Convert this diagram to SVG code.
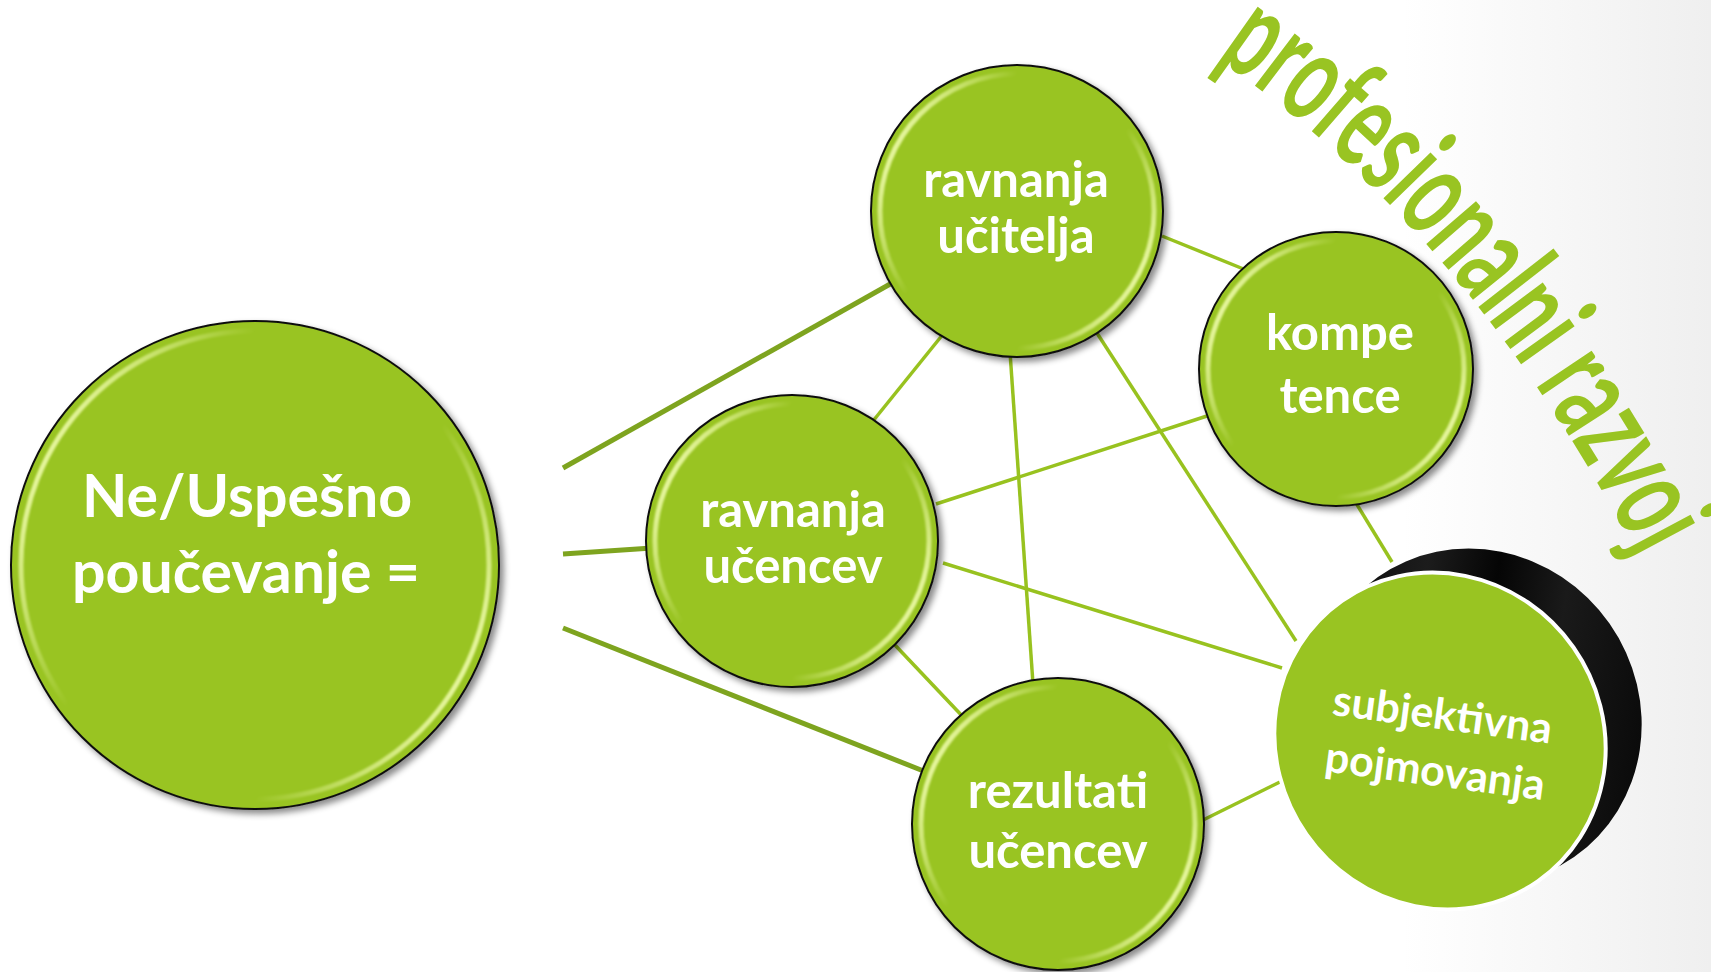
<svg xmlns="http://www.w3.org/2000/svg" width="1711" height="972" viewBox="0 0 1711 972">
<defs>
  <linearGradient id="bg" x1="0" y1="0" x2="1711" y2="0" gradientUnits="userSpaceOnUse">
    <stop offset="0.82" stop-color="#ffffff"/>
    <stop offset="1" stop-color="#efefef"/>
  </linearGradient>
  <linearGradient id="gloss" x1="0" y1="0.25" x2="1" y2="0.75">
    <stop offset="0" stop-color="#f4ffb4" stop-opacity="1"/>
    <stop offset="0.3" stop-color="#f4ffb4" stop-opacity="0"/>
    <stop offset="0.7" stop-color="#f4ffb4" stop-opacity="0"/>
    <stop offset="1" stop-color="#f4ffb4" stop-opacity="1"/>
  </linearGradient>
  <linearGradient id="rim" x1="0" y1="0" x2="1" y2="1">
    <stop offset="0" stop-color="#000"/>
    <stop offset="0.35" stop-color="#1c1c1c"/>
    <stop offset="0.5" stop-color="#050505"/>
    <stop offset="0.65" stop-color="#1a1a1a"/>
    <stop offset="1" stop-color="#000"/>
  </linearGradient>
  <filter id="shadow" x="-10%" y="-10%" width="125%" height="125%">
    <feDropShadow dx="4" dy="4" stdDeviation="3" flood-color="#000" flood-opacity="0.45"/>
  </filter>
  <filter id="soft" x="-10%" y="-10%" width="120%" height="120%">
    <feGaussianBlur stdDeviation="1.3"/>
  </filter>
  <path id="arc" d="M 1216 58 Q 1494 246 1680 640"/>
</defs>
<style>
  .ball{fill:#99c422;stroke:#111;stroke-width:2;filter:url(#shadow)}
  .gloss{fill:none;stroke:url(#gloss);stroke-width:5;filter:url(#soft)}
  .lbl{font-family:Lato,"Open Sans",sans-serif;font-weight:700;fill:#ffffff;text-anchor:middle}
  .thick{stroke:#7ea41f;stroke-width:5;fill:none}
  .thin{stroke:#98c21f;stroke-width:3.5;fill:none}
  .title{font-family:Lato,"Open Sans",sans-serif;font-weight:700;fill:#99c422;font-size:128px}
</style>
<rect x="0" y="0" width="1711" height="972" fill="url(#bg)"/>

<g id="connectors">
  <line class="thick" x1="563" y1="468" x2="892" y2="283"/>
  <line class="thick" x1="563" y1="554" x2="652" y2="548"/>
  <line class="thick" x1="563" y1="628" x2="926" y2="772"/>
  <line class="thin" x1="873" y1="421" x2="944" y2="333"/>
  <line class="thin" x1="1010" y1="352" x2="1033" y2="684"/>
  <line class="thin" x1="1095" y1="330" x2="1296" y2="641"/>
  <line class="thin" x1="1162" y1="236" x2="1246" y2="270"/>
  <line class="thin" x1="936" y1="504" x2="1207" y2="416"/>
  <line class="thin" x1="943" y1="563" x2="1282" y2="668"/>
  <line class="thin" x1="894" y1="644" x2="966" y2="720"/>
  <line class="thin" x1="1356" y1="503" x2="1392" y2="562"/>
  <line class="thin" x1="1193" y1="825" x2="1288" y2="778"/>
</g>

<g id="node-uspesno">
  <circle class="ball" cx="255" cy="565" r="244"/>
  <circle class="gloss" cx="255" cy="565" r="234"/>
  <text class="lbl" x="247" y="517" font-size="59">Ne/Uspešno</text>
  <text class="lbl" x="246" y="593" font-size="59">poučevanje =</text>
</g>

<g id="node-ucitelja">
  <circle class="ball" cx="1017" cy="211" r="146"/>
  <circle class="gloss" cx="1017" cy="211" r="137"/>
  <text class="lbl" x="1016" y="197" font-size="49">ravnanja</text>
  <text class="lbl" x="1016" y="253" font-size="49">učitelja</text>
</g>

<g id="node-ucencev">
  <circle class="ball" cx="792" cy="541" r="146"/>
  <circle class="gloss" cx="792" cy="541" r="137"/>
  <text class="lbl" x="793" y="527" font-size="49">ravnanja</text>
  <text class="lbl" x="793" y="583" font-size="49">učencev</text>
</g>

<g id="node-rezultati">
  <circle class="ball" cx="1058" cy="824" r="146"/>
  <circle class="gloss" cx="1058" cy="824" r="137"/>
  <text class="lbl" x="1058" y="808" font-size="49">rezultati</text>
  <text class="lbl" x="1058" y="868" font-size="49">učencev</text>
</g>

<g id="node-kompetence">
  <circle class="ball" cx="1336" cy="369" r="137"/>
  <circle class="gloss" cx="1336" cy="369" r="128"/>
  <text class="lbl" x="1340" y="350" font-size="49">kompe</text>
  <text class="lbl" x="1340" y="413" font-size="49">tence</text>
</g>

<g id="node-subjektivna">
  <ellipse cx="1476" cy="717" rx="163" ry="171" transform="rotate(-35 1476 717)" fill="url(#rim)"/>
  <ellipse cx="1440" cy="741" rx="163" ry="171" transform="rotate(-35 1440 741)" fill="#99c422" stroke="#ffffff" stroke-width="4"/>
  <g transform="rotate(7.5 1437 757)">
    <text class="lbl" x="1437" y="729" font-size="43">subjektivna</text>
    <text class="lbl" x="1437" y="786" font-size="43">pojmovanja</text>
  </g>
</g>

<g id="title">
  <text class="title"><textPath href="#arc" textLength="662" lengthAdjust="spacingAndGlyphs">profesionalni razvoj</textPath></text>
</g>
</svg>
